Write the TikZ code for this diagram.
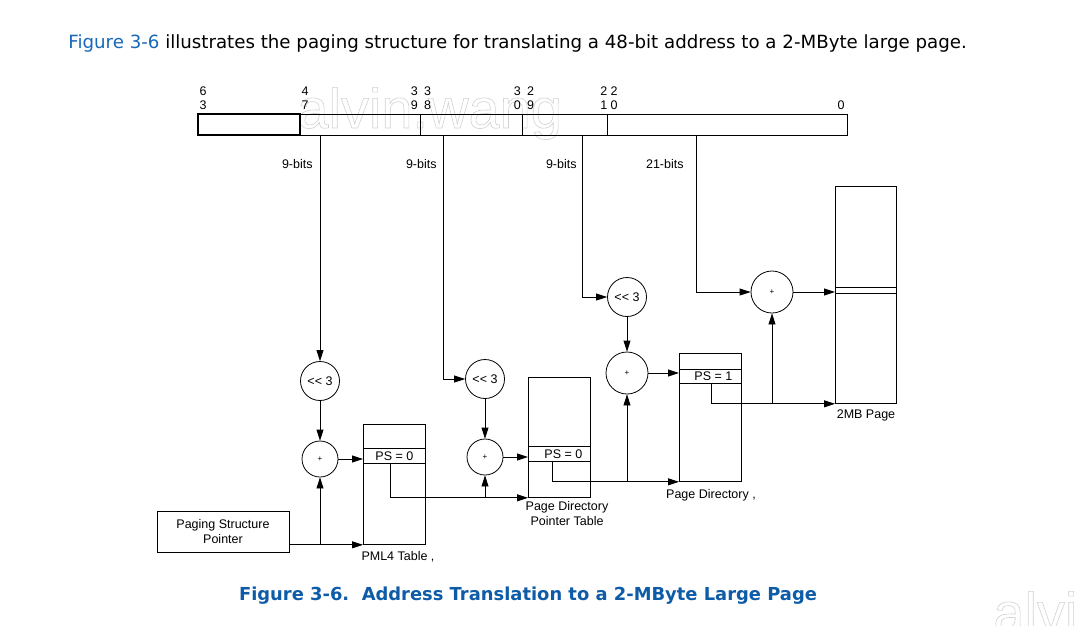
\documentclass[tikz,border=0pt]{standalone}
\usepackage{fontspec}
\setmainfont{Liberation Sans}
\newfontfamily\verdana{DejaVu Sans}
\usetikzlibrary{arrows.meta,calc}

\definecolor{intelblue}{RGB}{14,92,168}
\definecolor{linkblue}{RGB}{24,104,184}
\definecolor{wmark}{RGB}{246,246,246}
\newcommand{\lblsize}{\fontsize{12.5}{15}\selectfont}
\newcommand{\outlined}[1]{\special{pdf:literal direct 1 Tr 0.6 w 0.82 0.82 0.82 RG}#1\special{pdf:literal direct 0 Tr}}

\tikzset{
  lbl/.style={inner sep=0pt, font=\lblsize},
  shifter/.style={draw, circle, minimum size=39pt, inner sep=0pt, font=\lblsize},
  adder/.style={draw, circle, minimum size=36pt, inner sep=0pt, font=\fontsize{8}{8}\selectfont},
  tbl/.style={draw, anchor=north west, inner sep=0pt, minimum width=62pt},
  psrow/.style={tbl, minimum height=15pt, font=\lblsize},
  arr/.style={draw, -{Triangle[length=11pt,width=7pt]}},
  wmtext/.style={anchor=base west, inner sep=0pt, text=wmark, font=\fontsize{56}{56}\selectfont},
}

\begin{document}
\begin{tikzpicture}[x=1pt, y=-1pt, line width=0.8pt]
    \useasboundingbox (0,0) rectangle (1082,625);
    % watermark
    \node[wmtext] (wm) at (297,128) {\outlined{alvin.wang}};
    \node[wmtext] (wmcorner) at (993,632) {\outlined{alvi}};
    % headings
    \node[anchor=base west, inner sep=0pt, font=\verdana\fontsize{18.2}{21}\selectfont] (intro) at (68,48)
        {\textcolor{linkblue}{Figure 3-6} illustrates the paging structure for translating a 48-bit address to a 2-MByte large page.};
    \node[inner sep=0pt, text=intelblue, font=\verdana\bfseries\fontsize{17.9}{20}\selectfont] (caption) at (528,596)
        {Figure 3-6.\ \ Address Translation to a 2-MByte Large Page};
    % linear address
    \path[draw] (198,114) rectangle (847,135);
    \path[draw, line width=1.2pt] (198,114) rectangle (300,135);
    \foreach \x in {420,522,607} \path[draw] (\x,114)--(\x,135);
    \foreach \x/\hi/\lo in {203/6/3, 305/4/7, 421/3\enspace 3/9\enspace 8, 524/3\enspace 2/0\enspace 9, 609/2 2/1 0}
    {
        \node[lbl] (hi\x) at (\x,91) {\hi};
        \node[lbl] (lo\x) at (\x,105) {\lo};
    }
    \node[lbl] (lo0) at (841,105) {0};
    % index fields
    \coordinate (b1) at (320,135);
    \coordinate (b2) at (443,135);
    \coordinate (b3) at (582,135);
    \coordinate (b4) at (696,135);
    \node[lbl, anchor=east] (w1) at (313,164) {9-bits};
    \node[lbl, anchor=east] (w2) at (437,164) {9-bits};
    \node[lbl, anchor=east] (w3) at (577,164) {9-bits};
    \node[lbl, anchor=east] (w4) at (684,164) {21-bits};
    % shifts and adds
    \node[shifter] (s1) at (320,381) {<\kern0pt< 3};
    \node[adder] (a1) at (320,459) {+};
    \node[shifter] (s2) at (485,379) {<\kern0pt< 3};
    \node[adder] (a2) at (485,457) {+};
    \node[shifter] (s3) at (627,297) {<\kern0pt< 3};
    \node[adder, minimum size=42pt] (a3) at (627,373) {+};
    \node[adder, minimum size=42pt] (a4) at (772,292) {+};
    % tables
    \node[draw, lbl, minimum width=132pt, minimum height=41pt, align=center] (ptr) at (223,532) {Paging Structure\\Pointer};
    \node[tbl, minimum height=120pt] (pml4) at (363,424) {};
    \node[psrow] (pml4ps) at (363,448) {PS = 0};
    \node[tbl, minimum height=120pt] (pdpt) at (528,377) {};
    \node[psrow] (pdptps) at (528,446) {\hspace{8pt}PS = 0};
    \node[tbl, minimum height=128pt] (pd) at (679,353) {};
    \node[psrow, minimum height=14pt] (pdps) at (679,369) {\hspace{6pt}PS = 1};
    \node[tbl, minimum width=61pt, minimum height=217pt] (page) at (835,186) {};
    \node[tbl, minimum width=61pt, minimum height=6pt] (pagerow) at (835,287) {};
    \node[lbl] (pml4lbl) at (398,557) {PML4 Table ,};
    \node[lbl, align=center] (pdptlbl) at (567,514) {Page Directory\\Pointer Table};
    \node[lbl] (pdlbl) at (711,495) {Page Directory ,};
    \node[lbl] (pagelbl) at (866,415) {2MB Page};
    % PML4 step
    \path[arr] (b1) -- (s1);
    \path[arr] (s1) -- (a1);
    \path[arr] (ptr.east |- pml4.south west) -- (pml4.south west);
    \path[arr] (a1.south |- pml4.south west) -- (a1);
    \path[arr] (a1) -- (a1 -| pml4ps.west);
    \path[arr] ([xshift=-4pt]pml4ps.south) |- (pdpt.south west);
    % PDPT step
    \path[arr] (b2) |- (s2);
    \path[arr] (s2) -- (a2);
    \path[arr] (a2.south |- pdpt.south west) -- (a2);
    \path[arr] (a2) -- (a2 -| pdptps.west);
    \path[arr] ([xshift=-7pt]pdptps.south west -| pdptps.south) |- (pd.south west);
    % PD step
    \path[arr] (b3) |- (s3);
    \path[arr] (s3) -- (a3);
    \path[arr] (a3.south |- pd.south west) -- (a3);
    \path[arr] (a3) -- (a3 -| pdps.west);
    \path[arr] ([xshift=1pt]pdps.south west -| pdps.south) |- (page.south west);
    % page offset
    \path[arr] (b4) |- (a4);
    \path[arr] (a4.south |- page.south west) -- (a4);
    \path[arr] (a4) -- (a4 -| page.west);
\end{tikzpicture}
\end{document}
